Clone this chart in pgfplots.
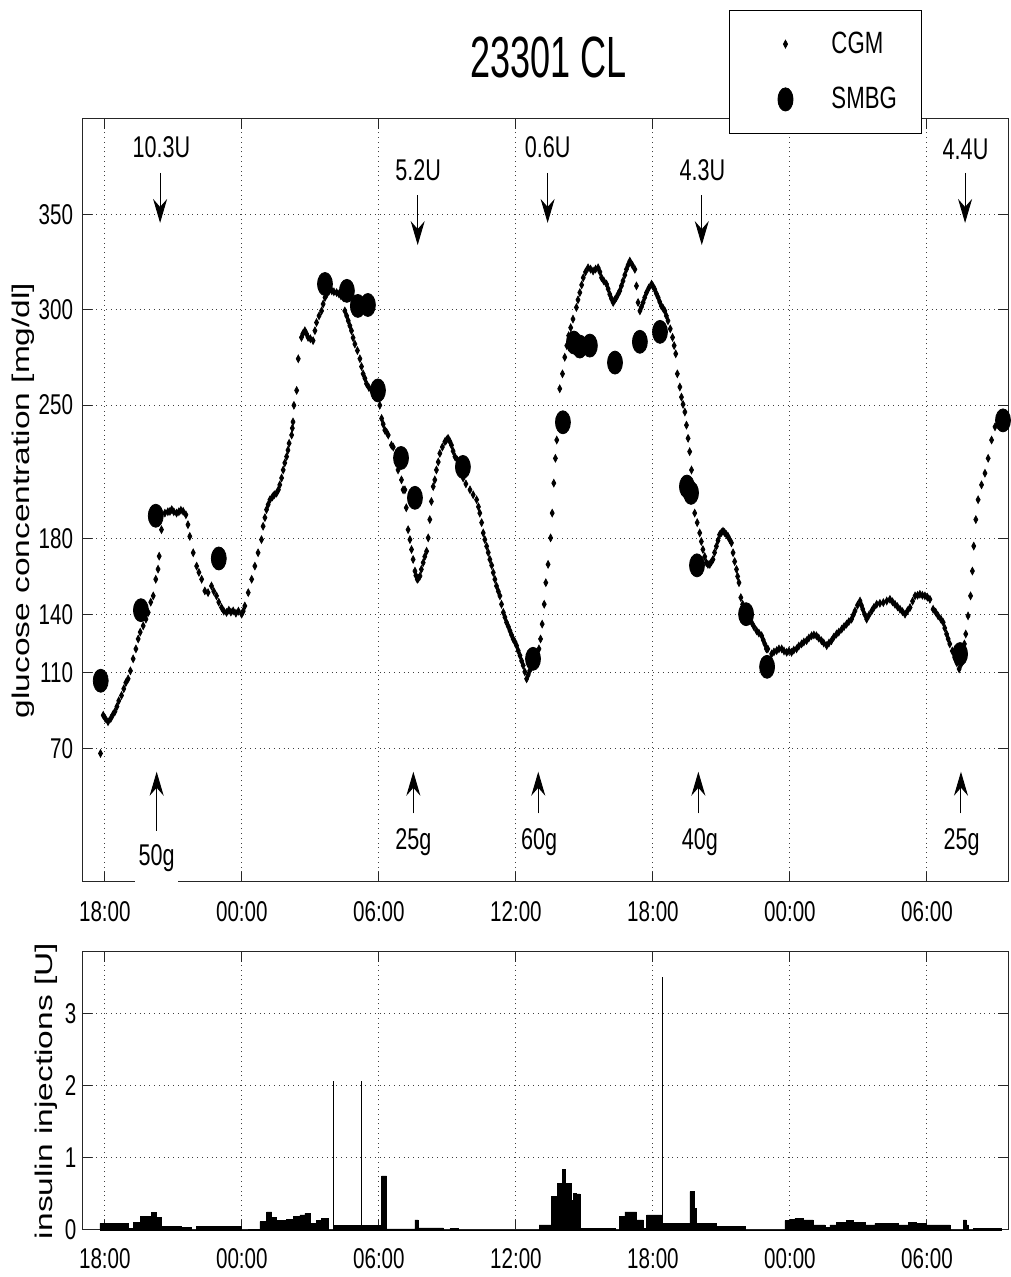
\documentclass[border=0pt]{standalone}
\usepackage{fontspec}
\setmainfont{Liberation Sans}[FakeStretch=0.72]
\newfontfamily\titlefam{Liberation Sans}[FakeStretch=0.62]
\newfontfamily\labfam{Liberation Sans}
\usepackage{pgfplots}
\pgfplotsset{compat=1.18}
\usetikzlibrary{arrows.meta}

\newcommand\tickfont{\fontsize{14.3}{16}\selectfont}
\newcommand\annfont{\fontsize{15}{17}\selectfont}
\newcommand\legfont{\fontsize{15.4}{17}\selectfont}
\newcommand\ylabfont{\labfam\fontsize{16.75}{19}\selectfont}

\tikzset{uparr/.style={line width=0.5pt, -{Stealth[length=12pt, width=7pt, inset=4pt]}}}
\pgfplotsset{
  mylegimg/.style={legend image code/.code={\path[draw=none,fill=none] (-27.85pt,-6pt) rectangle (10pt,6pt); \draw[##1] plot coordinates {(0pt,0pt)};}},
  commonax/.style={
    scale only axis, width=463pt, xmin=17, xmax=57.55,
    xtick={18,24,30,36,42,48,54},
    xticklabels={18:00,00:00,06:00,12:00,18:00,00:00,06:00},
    tick align=inside, major tick length=5pt,
    tick style={black!85, line width=0.5pt},
    axis line style={black!85, line width=0.5pt},
    grid=major,
    major grid style={black!75, line width=0.5pt, dash pattern=on 0.5pt off 1.9pt},
    tick label style={font=\tickfont},
    clip=false,
  },
}

\begin{document}
\begin{tikzpicture}
\useasboundingbox (0,0) rectangle (505pt,638.5pt);

% ---------------- top axis: glucose ----------------
\begin{axis}[commonax,
  at={(41pt,197.5pt)}, anchor=south west, height=381.5pt,
  ymin=0, ymax=400,
  ytick={70,110,140,180,250,300,350},
  yticklabels={70,110,140,180,250,300,350},
  yticklabel style={inner sep=0pt, anchor=east, xshift=-4.3pt},
  xticklabel style={inner sep=0pt, anchor=north, yshift=-9.5pt},
  ylabel={\scalebox{1}[0.72]{\ylabfont glucose concentration [mg/dl]}},
  every axis y label/.style={at={(axis description cs:-0.0634,0.5)}, rotate=90, anchor=center, inner sep=0pt},
  title={\titlefam\fontsize{29.1}{31}\selectfont 23301 CL},
  title style={at={(axis description cs:0.5036,1.0653)}, anchor=center, inner sep=0pt},
  legend style={at={(axis description cs:0.699,1.1429)}, anchor=north west,
    draw=black, fill=white, line width=0.5pt, inner xsep=0pt, inner ysep=10.7pt,
    row sep=15.4pt, column sep=13pt, font=\legfont, nodes={inner sep=0pt}},
  legend cell align=left,
]
\addplot[only marks, mark=diamond*, mark size=1.85pt, black,
  mark options={xscale=0.72}, mylegimg]
coordinates {
(17.81,67.4)
(17.93,87.4)(18.02,85.7)(18.14,84.0)(18.26,85.7)(18.35,87.7)(18.44,89.3)(18.53,92.0)(18.61,95.0)(18.73,97.8)(18.83,101.3)(18.92,104.5)(19.02,106.5)(19.12,110.7)(19.24,117.0)(19.36,122.2)(19.46,127.4)(19.55,131.0)(19.68,134.3)(19.80,137.8)(19.90,141.3)(20.01,146.7)(20.12,150.0)(20.23,158.7)(20.33,164.0)(20.38,170.8)(20.48,184.7)(20.63,193.4)
(20.76,194.1)(20.85,194.3)(20.93,195.2)(21.02,194.1)(21.14,193.4)(21.24,194.1)(21.33,194.9)(21.43,194.3)(21.55,192.5)(21.64,187.3)(21.72,181.2)(21.87,172.6)(22.02,165.6)(22.12,162.3)(22.24,158.7)(22.38,152.6)(22.52,151.7)(22.67,155.2)(22.77,152.4)(22.89,150.0)(22.99,146.7)(23.11,143.9)(23.21,142.0)(23.33,141.3)(23.43,142.5)(23.52,141.5)(23.62,142.1)(23.74,140.9)(23.85,142.0)(23.99,140.4)(24.06,142.0)(24.13,144.7)(24.28,151.7)(24.43,158.7)(24.57,165.6)(24.71,172.6)(24.86,179.5)(24.93,186.5)(25.01,191.0)(25.08,195.2)(25.15,197.8)(25.23,200.4)(25.34,201.9)(25.42,203.0)(25.52,203.9)(25.60,205.6)(25.66,208.2)(25.74,211.8)(25.81,216.0)(25.88,219.7)(25.96,223.0)(26.02,226.4)(26.07,230.0)(26.18,234.3)(26.21,237.9)(26.24,241.2)(26.28,249.9)(26.40,257.7)(26.47,274.3)(26.61,285.5)(26.67,287.4)(26.76,289.0)(26.83,287.4)(26.90,285.5)(27.00,284.8)(27.12,283.8)(27.20,289.0)(27.27,293.3)(27.38,296.8)(27.49,299.4)(27.56,303.0)(27.64,306.4)(27.73,308.3)(27.82,309.9)(27.94,309.9)(28.03,309.4)(28.15,309.0)(28.25,308.3)(28.34,307.3)(28.44,306.4)(28.51,299.4)(28.59,296.8)(28.66,294.2)(28.73,291.6)(28.80,289.0)(28.87,285.3)(28.95,282.0)(29.06,278.6)(29.17,274.3)(29.24,270.2)(29.31,266.4)(29.39,264.0)(29.46,261.2)(29.56,259.3)(29.68,257.7)(29.78,256.2)(29.87,255.1)(29.97,254.2)(30.04,249.9)(30.12,243.0)(30.19,240.0)(30.26,236.9)(30.34,235.8)(30.41,234.3)(30.55,229.0)(30.63,228.0)(30.77,221.2)(30.84,216.0)(30.99,210.8)(31.06,205.6)(31.14,205.6)(31.20,196.2)(31.28,184.7)(31.36,179.5)(31.43,174.3)(31.50,169.1)(31.58,163.0)(31.62,160.7)(31.68,158.7)(31.73,159.2)(31.80,160.4)(31.86,163.9)(31.94,167.4)(32.01,170.6)(32.09,173.4)(32.16,180.4)(32.23,190.0)(32.30,199.5)(32.38,207.3)(32.45,210.8)(32.52,216.0)(32.60,220.2)(32.67,224.7)(32.78,228.0)(32.89,230.8)(32.96,231.7)(33.03,232.6)(33.11,230.9)(33.18,229.0)(33.25,225.9)(33.33,223.0)(33.44,221.2)(33.55,219.5)(33.62,215.0)(33.69,211.8)(33.81,208.7)(33.99,205.6)(34.13,203.0)(34.28,200.4)(34.36,196.7)(34.42,193.4)(34.50,188.4)(34.57,183.0)(34.64,179.5)(34.72,176.0)(34.79,172.7)(34.86,169.1)(34.94,166.0)(35.01,162.2)(35.08,158.7)(35.15,155.2)(35.23,152.4)(35.30,150.0)(35.37,145.6)(35.45,141.3)(35.52,138.8)(35.59,136.1)(35.67,133.9)(35.74,131.7)(35.81,129.5)(35.88,127.4)(35.96,125.8)(36.03,123.9)(36.10,121.3)(36.18,118.7)(36.25,115.9)(36.32,113.5)(36.39,110.2)(36.47,106.5)(36.54,108.6)(36.61,110.9)(36.69,112.8)(36.79,114.3)(36.92,117.0)(37.01,122.2)(37.08,127.4)(37.15,135.2)(37.24,145.6)(37.31,156.9)(37.41,166.5)(37.52,180.4)(37.59,193.4)(37.66,209.1)(37.73,222.1)(37.79,231.7)(37.85,243.1)(37.92,258.6)(38.04,266.4)(38.14,275.1)(38.23,281.2)(38.31,286.4)(38.40,290.6)(38.50,295.1)(38.65,301.2)(38.72,305.2)(38.80,309.0)(38.88,313.0)(38.95,316.8)(39.05,319.8)(39.16,322.0)(39.27,321.3)(39.38,320.3)(39.49,321.3)(39.60,322.0)(39.68,319.8)(39.75,316.8)(39.85,315.1)(39.97,313.4)(40.04,310.9)(40.11,308.1)(40.18,305.9)(40.26,303.8)(40.33,305.2)(40.40,306.4)(40.48,308.3)(40.55,309.9)(40.62,312.5)(40.69,315.1)(40.77,318.2)(40.84,321.2)(40.91,323.4)(40.99,325.5)(41.10,323.4)(41.21,321.2)(41.28,312.5)(41.35,303.8)(41.43,299.4)(41.50,301.5)(41.57,303.8)(41.64,306.4)(41.72,309.0)(41.82,311.4)(41.94,313.4)(42.01,312.2)(42.08,310.7)(42.15,308.5)(42.23,306.4)(42.30,304.1)(42.37,302.0)(42.45,300.7)(42.52,299.4)(42.59,296.8)(42.66,294.2)(42.76,290.0)(42.86,285.5)(42.93,281.2)(43.00,276.9)(43.07,266.4)(43.18,259.5)(43.25,254.2)(43.32,250.4)(43.40,246.4)(43.47,239.5)(43.54,232.6)(43.61,225.6)(43.69,216.0)(43.76,205.6)(43.83,193.4)(43.94,188.4)(44.05,183.0)(44.12,178.5)(44.19,174.3)(44.27,170.6)(44.34,167.4)(44.41,166.5)(44.49,166.5)(44.56,167.8)(44.63,169.1)(44.70,172.7)(44.78,176.0)(44.85,179.0)(44.92,182.1)(45.00,183.2)(45.07,183.9)(45.14,183.2)(45.22,182.1)(45.29,181.2)(45.36,179.5)(45.44,177.8)(45.51,172.6)(45.58,168.0)(45.66,163.9)(45.71,160.2)(45.77,156.9)(45.85,149.1)(45.93,145.6)(46.03,142.1)(46.16,139.4)(46.32,136.1)(46.42,133.9)(46.54,131.7)(46.64,130.5)(46.76,129.1)(46.83,126.9)(46.90,124.8)(46.97,122.2)(47.03,122.2)(47.20,119.6)(47.30,120.6)(47.42,121.3)(47.52,122.2)(47.64,122.2)(47.74,121.1)(47.86,120.4)(47.96,121.1)(48.07,120.4)(48.17,121.6)(48.29,122.2)(48.39,123.7)(48.51,124.8)(48.61,125.8)(48.73,126.5)(48.83,127.9)(48.95,129.1)(49.05,129.5)(49.16,129.1)(49.26,127.9)(49.38,126.5)(49.48,125.3)(49.61,123.9)(49.71,125.3)(49.82,126.5)(49.92,128.4)(50.04,130.0)(50.14,131.0)(50.27,132.6)(50.37,133.9)(50.48,135.2)(50.58,136.5)(50.70,137.8)(50.77,139.9)(50.85,142.1)(50.96,145.1)(51.07,147.3)(51.13,145.1)(51.19,143.0)(51.27,140.4)(51.36,137.8)(51.46,139.9)(51.58,142.1)(51.68,144.0)(51.80,145.6)(51.94,146.1)(52.09,146.5)(52.24,147.3)(52.38,148.2)(52.49,146.9)(52.60,145.6)(52.71,144.3)(52.82,143.0)(52.93,141.7)(53.04,140.4)(53.15,142.2)(53.26,143.9)(53.37,147.2)(53.48,150.0)(53.59,150.3)(53.69,150.8)(53.80,150.3)(53.91,150.0)(54.02,149.3)(54.13,148.2)(54.27,143.0)(54.38,141.5)(54.49,139.5)(54.61,137.8)(54.71,136.1)(54.78,133.1)(54.86,130.0)(54.93,127.4)(55.00,124.8)(55.11,121.1)(55.22,117.8)(55.31,114.9)(55.41,111.7)(55.50,114.3)(55.58,119.6)(55.64,124.8)(55.70,130.0)(55.80,139.5)(55.91,150.0)(55.99,163.0)(56.05,176.1)(56.14,190.0)(56.24,200.4)(56.39,208.2)(56.54,214.3)(56.68,222.1)(56.83,231.7)(56.98,238.6)(57.20,243.8)
};
\addlegendentry{CGM}
\addplot[only marks, mark=*, mark size=5.75pt, black,
  mark options={xscale=0.65}, mylegimg]
coordinates {
(17.82,105.5)(19.58,142.5)(20.23,192)(22.99,169.6)(27.64,313.5)(28.60,309.9)(29.08,302)(29.52,302.5)(29.96,257.7)(30.97,222.3)(31.58,201.4)(33.68,217.6)(36.75,117)(38.06,241)(38.54,282.8)(38.80,280.7)(39.24,281.2)(40.34,272.3)(41.43,283.2)(42.31,288.4)(43.49,207.3)(43.67,204)(43.93,166)(46.08,140.4)(47.00,112.8)(55.45,119.5)(57.33,242)
};
\addlegendentry{SMBG\hspace*{12.5pt}}

% insulin boluses (down arrows)
\draw[uparr] (axis cs:20.42,371.7) -- (axis cs:20.42,345.5);
\node[font=\annfont, anchor=base, inner sep=0pt] at (axis cs:20.48,379.6) {10.3U};
\draw[uparr] (axis cs:31.70,360.1) -- (axis cs:31.70,333.9);
\node[font=\annfont, anchor=base, inner sep=0pt] at (axis cs:31.72,368.0) {5.2U};
\draw[uparr] (axis cs:37.39,371.7) -- (axis cs:37.39,345.5);
\node[font=\annfont, anchor=base, inner sep=0pt] at (axis cs:37.39,379.6) {0.6U};
\draw[uparr] (axis cs:44.14,360.1) -- (axis cs:44.14,333.9);
\node[font=\annfont, anchor=base, inner sep=0pt] at (axis cs:44.17,368.0) {4.3U};
\draw[uparr] (axis cs:55.67,371.7) -- (axis cs:55.67,345.5);
\node[font=\annfont, anchor=base, inner sep=0pt] at (axis cs:55.69,378.5) {4.4U};
% meals (up arrows)
\draw[uparr] (axis cs:20.27,25.5) -- (axis cs:20.27,57.8);
\node[font=\annfont, anchor=base, fill=white, inner xsep=1.8pt, inner ysep=6.5pt] at (axis cs:20.27,8.9) {50g};
\draw[uparr] (axis cs:31.51,36.0) -- (axis cs:31.51,57.8);
\node[font=\annfont, anchor=base, inner sep=0pt] at (axis cs:31.51,16.8) {25g};
\draw[uparr] (axis cs:36.98,36.0) -- (axis cs:36.98,57.8);
\node[font=\annfont, anchor=base, inner sep=0pt] at (axis cs:37.02,16.8) {60g};
\draw[uparr] (axis cs:43.99,36.0) -- (axis cs:43.99,57.8);
\node[font=\annfont, anchor=base, inner sep=0pt] at (axis cs:44.06,16.8) {40g};
\draw[uparr] (axis cs:55.49,36.0) -- (axis cs:55.49,57.8);
\node[font=\annfont, anchor=base, inner sep=0pt] at (axis cs:55.52,16.8) {25g};
\end{axis}

% ---------------- bottom axis: insulin ----------------
\begin{axis}[commonax,
  at={(41pt,23.5pt)}, anchor=south west, height=139pt,
  ymin=0, ymax=3.85,
  ytick={0,1,2,3}, yticklabels={0,1,2,3},
  yticklabel style={inner sep=0pt, anchor=east, xshift=-2.6pt},
  xticklabel style={inner sep=0pt, anchor=north, yshift=-9.15pt},
  ylabel={\scalebox{1}[0.72]{\ylabfont insulin injections [U]}},
  every axis y label/.style={at={(axis description cs:-0.0381,0.5)}, rotate=90, anchor=center, inner sep=0pt},
]
\addplot[const plot, fill=black, draw=black, line width=0.3pt] coordinates {
(17.78,0.09)(19.02,0.02)(19.25,0.11)(19.54,0.19)(20.05,0.24)(20.26,0.18)(20.48,0.046)(21.36,0.04)(21.80,0)(22.01,0.046)(23.99,0)(24.28,0.012)(24.79,0.115)(25.08,0.25)(25.30,0.17)(25.52,0.13)(25.96,0.15)(26.25,0.19)(26.54,0.21)(26.76,0.23)(26.98,0.09)(27.27,0.13)(27.49,0.16)(27.78,0)(28.02,0.065)(30.12,0.75)(30.34,0.014)(31.58,0.14)(31.72,0.03)(32.82,0)(33.11,0.02)(33.48,0)(37.02,0.07)(37.56,0.46)(37.81,0.64)(38.04,0.84)(38.15,0.64)(38.41,0.41)(38.51,0.51)(38.63,0.5)(38.80,0.02)(40.34,0)(40.55,0.19)(40.77,0.25)(41.29,0.14)(41.58,0.02)(41.72,0.21)(42.38,0.09)(43.62,0.53)(43.81,0.3)(43.91,0.09)(44.79,0.046)(46.03,0)(47.78,0.13)(48.0,0.15)(48.22,0.16)(48.58,0.14)(49.02,0.07)(49.53,0.04)(49.75,0.07)(50.05,0.11)(50.48,0.13)(50.77,0.11)(51.29,0.07)(51.72,0.09)(52.74,0.07)(53.18,0.1)(53.55,0.09)(53.99,0.07)(55.01,0)(55.59,0.14)(55.71,0.07)(55.81,0)(56.03,0.02)(57.27,0)
} \closedcycle;
\addplot[ycomb, black, line width=0.5pt] coordinates {(28.02,2.07)(29.24,2.07)(42.41,3.5)};
\end{axis}
\end{tikzpicture}
\end{document}
